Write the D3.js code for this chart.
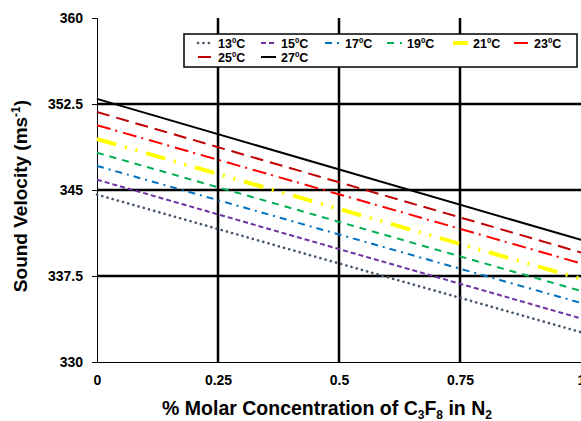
<!DOCTYPE html>
<html><head><meta charset="utf-8">
<script src="https://cdn.jsdelivr.net/npm/d3@7"></script>
<style>body{margin:0;background:#fff}svg{display:block;font-family:"Liberation Sans",Arial,sans-serif;font-weight:bold}</style>
</head><body><svg id="c" width="581" height="421"></svg>
<script>
const xValues = [0, 1];
const seriesNames = ["13", "15", "17", "19", "21", "23", "25", "27"];
const v13 = [344.6, 332.6];
const v15 = [345.9, 333.8];
const v17 = [347.1, 335.15];
const v19 = [348.25, 336.2];
const v21 = [349.45, 337.25];
const v23 = [350.65, 338.6];
const v25 = [351.8, 339.55];
const v27 = [352.95, 340.65];
const seriesValues = [v13, v15, v17, v19, v21, v23, v25, v27];
const xTicks = [0, 0.25, 0.5, 0.75, 1];
const xTickLabels = ["0", "0.25", "0.5", "0.75", "1"];
const yTicks = [330, 337.5, 345, 352.5, 360];
const yTickLabels = ["330", "337.5", "345", "352.5", "360"];

const styles = [
  {color:"#44546A", w:2.6, dash:"0.1 5.3", cap:"round"},
  {color:"#7030A0", w:2, dash:"5 3", cap:"butt"},
  {color:"#0070C0", w:2, dash:"7 5 2 5", cap:"butt"},
  {color:"#00B050", w:2, dash:"7 6", cap:"butt"},
  {color:"#FFFF00", w:4, dash:"20 9 2 9 2 9", cap:"butt"},
  {color:"#FF0000", w:2, dash:"14 5 2 6", cap:"butt"},
  {color:"#C00000", w:2, dash:"13 7", cap:"butt"},
  {color:"#000000", w:2, dash:null, cap:"butt"}
];

const svg = d3.select("#c");
const x = d3.scaleLinear().domain([0,1]).range([97,581]);
const y = d3.scaleLinear().domain([330,360]).range([362,18]);

// gridlines
const g = svg.append("g");
g.selectAll(".hg").data(yTicks.filter(t=>t>330 && t<360)).enter().append("line")
  .attr("x1",x(0)).attr("x2",x(1)).attr("y1",d=>y(d)).attr("y2",d=>y(d))
  .attr("stroke","#000").attr("stroke-width",2.5);
g.selectAll(".vg").data(xTicks.filter(t=>t>0 && t<1)).enter().append("line")
  .attr("x1",d=>x(d)).attr("x2",d=>x(d)).attr("y1",y(330)).attr("y2",y(360))
  .attr("stroke","#000").attr("stroke-width",2.5);

// axes
const yAxis = d3.axisLeft(y).tickValues(yTicks).tickFormat((d,i)=>yTickLabels[i]).tickSize(5).tickPadding(9);
const ya = svg.append("g").attr("transform",`translate(${x(0)},0)`).call(yAxis);
ya.select(".domain").attr("stroke","#000").attr("stroke-width",1);
ya.selectAll("text").attr("font-size",14).attr("font-weight","bold").attr("fill","#000").attr("font-family","Liberation Sans, Arial, sans-serif");
const xAxis = d3.axisBottom(x).tickValues(xTicks).tickFormat((d,i)=>xTickLabels[i]).tickSize(0).tickPadding(13);
const xa = svg.append("g").attr("transform",`translate(0,${y(330)})`).call(xAxis);
xa.select(".domain").attr("stroke","#000").attr("stroke-width",1);
xa.selectAll("text").attr("font-size",14).attr("font-weight","bold").attr("fill","#000").attr("font-family","Liberation Sans, Arial, sans-serif");

// lines
const line = d3.line().x((d,i)=>x(xValues[i])).y(d=>y(d));
seriesValues.forEach((vals,i)=>{
  const s = styles[i];
  svg.append("path").attr("d",line(vals)).attr("fill","none")
    .attr("stroke",s.color).attr("stroke-width",s.w)
    .attr("stroke-dasharray",s.dash).attr("stroke-linecap",s.cap);
});

// legend
const lg = svg.append("g");
lg.append("rect").attr("x",184).attr("y",34).attr("width",393).attr("height",33)
  .attr("fill","#fff").attr("stroke","#000").attr("stroke-width",1.5);
const legPos = [[198,43],[261,43],[325,43],[387,43],[453,43],[514,43],[198,57],[261,57]];
seriesNames.forEach((n,i)=>{
  const s = styles[i];
  const [lx,ly] = legPos[i];
  lg.append("line").attr("x1",lx).attr("x2",lx+15).attr("y1",ly).attr("y2",ly)
    .attr("stroke",s.color).attr("stroke-width",s.w).attr("stroke-dasharray",s.dash).attr("stroke-linecap",s.cap);
  const t = lg.append("text").attr("x",lx+20).attr("y",ly+4.5).attr("font-size",12.5).attr("fill","#000");
  t.append("tspan").text(n);
  t.append("tspan").text("0").attr("font-size",8).attr("dy",-5);
  t.append("tspan").text("C").attr("dy",5);
});

// axis titles
const yt = svg.append("text").attr("transform","translate(27,196) rotate(-90)").attr("text-anchor","middle").attr("font-size",19).attr("fill","#000");
yt.append("tspan").text("Sound Velocity (ms");
yt.append("tspan").text("-1").attr("font-size",12).attr("dy",-7);
yt.append("tspan").text(")").attr("dy",7);

const xt = svg.append("text").attr("x",327).attr("y",415).attr("text-anchor","middle").attr("font-size",19.5).attr("fill","#000");
xt.append("tspan").text("% Molar Concentration of C");
xt.append("tspan").text("3").attr("font-size",12).attr("dy",4);
xt.append("tspan").text("F").attr("dy",-4);
xt.append("tspan").text("8").attr("font-size",12).attr("dy",4);
xt.append("tspan").text(" in N").attr("dy",-4);
xt.append("tspan").text("2").attr("font-size",12).attr("dy",4);
</script></body></html>
